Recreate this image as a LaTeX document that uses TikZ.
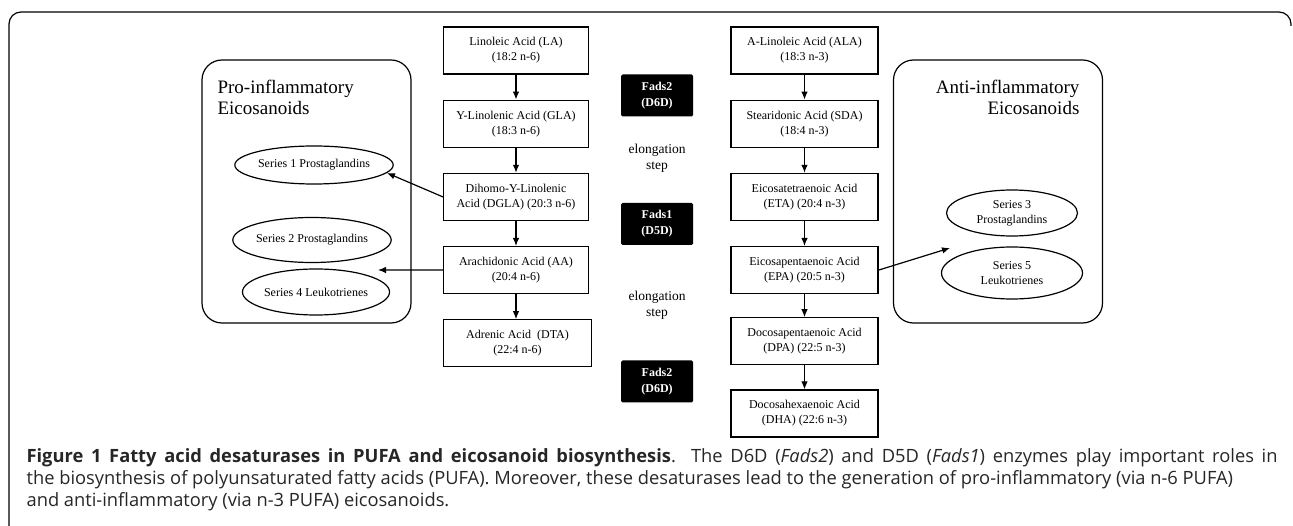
\documentclass[tikz,border=0pt]{standalone}
\usepackage{fontspec}
\setmainfont{Liberation Serif}
\newfontfamily\capfont{Open Sans}
\usetikzlibrary{positioning,shapes.geometric,arrows.meta}

\begin{document}
\begin{tikzpicture}[>={Latex[length=8pt,width=6.5pt]}, x=1pt, y=-1pt, line width=1.2pt,
  acid/.style={draw, minimum width=145pt, minimum height=47pt, inner sep=2pt,
    align=center, font=\fontsize{12}{15}\selectfont},
  enzyme/.style={fill=black, text=white, rounded corners=1.5pt, minimum width=72pt,
    minimum height=42pt, align=center, font=\fontsize{12}{16}\selectfont\bfseries},
  elong/.style={align=center, font=\fontsize{13.5}{16}\selectfont},
  group/.style={draw, rounded corners=20pt, minimum width=209pt, minimum height=263pt},
  series/.style={draw, ellipse, inner sep=0pt, align=center, font=\fontsize{12}{15}\selectfont},
  grouptitle/.style={inner sep=0pt, font=\fontsize{19}{21}\selectfont}]
  \useasboundingbox (0,0) rectangle (1293,526);
  \draw[rounded corners=12pt] (9,526) -- (9,12) -- (1291,12) -- (1291,26);

  % n-6 side
  \node[acid] (la) at (516,50.5) {Linoleic Acid (LA)\\(18:2 n-6)};
  \node[acid, below=25pt of la] (gla) {Y-Linolenic Acid (GLA)\\(18:3 n-6)};
  \node[acid, below=25pt of gla] (dgla) {Dihomo-Y-Linolenic\\Acid (DGLA) (20:3 n-6)};
  \node[acid, below=25pt of dgla] (aa) {Arachidonic Acid (AA)\\(20:4 n-6)};
  \node[acid, below=25pt of aa.south west, anchor=north west, minimum width=148pt] (dta) {Adrenic Acid\ \ (DTA)\\(22:4 n-6)};

  % n-3 side
  \node[acid, minimum width=147pt] (ala) at (804.5,50.5) {A-Linoleic Acid (ALA)\\(18:3 n-3)};
  \node[acid, minimum width=147pt, below=25pt of ala] (sda) {Stearidonic Acid (SDA)\\(18:4 n-3)};
  \node[acid, minimum width=147pt, below=25pt of sda] (eta) {Eicosatetraenoic Acid\\(ETA) (20:4 n-3)};
  \node[acid, minimum width=147pt, below=25pt of eta] (epa) {Eicosapentaenoic Acid\\(EPA) (20:5 n-3)};
  \node[acid, minimum width=147pt, below=23pt of epa] (dpa) {Docosapentaenoic Acid\\(DPA) (22:5 n-3)};
  \node[acid, minimum width=147pt, below=24pt of dpa] (dha) {Docosahexaenoic Acid\\(DHA) (22:6 n-3)};

  \foreach \a/\b in {la/gla, gla/dgla, dgla/aa, aa/dta, ala/sda, sda/eta, eta/epa, epa/dpa, dpa/dha}
    \draw[->] (\a.south) -- (\a.south |- \b.north);

  % enzymes
  \node[enzyme] (d6a) at (657,95.5) {Fads2\\(D6D)};
  \node[elong] (el1) at (657,158) {elongation\\step};
  \node[enzyme] (d5) at (657,224) {Fads1\\(D5D)};
  \node[elong] (el2) at (657,305) {elongation\\step};
  \node[enzyme] (d6b) at (657,381.5) {Fads2\\(D6D)};

  % eicosanoids
  \node[group] (pro) at (306.5,191.5) {};
  \node[grouptitle, anchor=north west, align=left] (protitle) at (217,80) {Pro-inflammatory\\Eicosanoids};
  \node[series, minimum width=138pt, minimum height=38pt] (s1) at (314,165) {Series 1 Prostaglandins};
  \node[series, minimum width=136pt, minimum height=45pt] (s2) at (312,240) {Series 2 Prostaglandins};
  \node[series, minimum width=136pt, minimum height=46pt] (s4) at (316,292) {Series 4 Leukotrienes};

  \node[group] (anti) at (998,191.5) {};
  \node[grouptitle, anchor=north east, align=right] (antititle) at (1080,80) {Anti-inflammatory\\Eicosanoids};
  \node[series, minimum width=131pt, minimum height=46pt] (s3) at (1012,213) {Series 3\\Prostaglandins};
  \node[series, minimum width=141pt, minimum height=52pt] (s5) at (1012,273) {Series 5\\Leukotrienes};

  \coordinate (s1tip) at (387,173);
  \coordinate (s24tip) at (378,270);
  \coordinate (s35tip) at (950,248);
  \draw[->] (dgla.west) -- (s1tip);
  \draw[->] (aa.west) -- (s24tip);
  \draw[->] (epa.east) -- (s35tip);

  \node[anchor=north west, inner sep=0pt, align=left, text=black!85,
    font=\capfont\fontsize{18.3}{22}\selectfont] (caption) at (26,448)
    {\makebox[1251pt][s]{\textbf{Figure 1 Fatty acid desaturases in PUFA and eicosanoid biosynthesis}. The D6D (\textit{Fads2}) and D5D (\textit{Fads1}) enzymes play important roles in}\\
     the biosynthesis of polyunsaturated fatty acids (PUFA). Moreover, these desaturases lead to the generation of pro-inflammatory (via n-6 PUFA)\\
     and anti-inflammatory (via n-3 PUFA) eicosanoids.};
\end{tikzpicture}
\end{document}
